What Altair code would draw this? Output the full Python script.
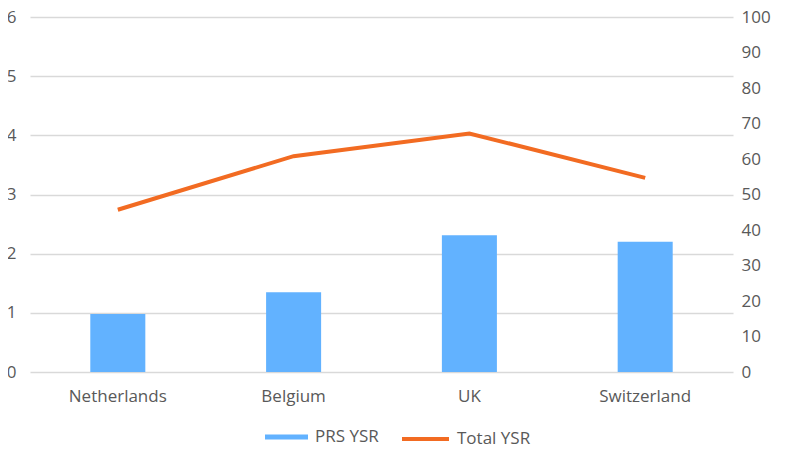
import altair as alt
import pandas as pd

countries = ["Netherlands", "Belgium", "UK", "Switzerland"]
prs_ysr = [0.98, 1.35, 2.31, 2.20]
total_ysr = [45.7, 60.8, 67.2, 54.7]

df = pd.DataFrame({
    "country": countries,
    "prs": prs_ysr,
    "total": total_ysr,
    "s_bar": ["PRS YSR"] * 4,
    "s_line": ["Total YSR"] * 4,
})

FONT = "Open Sans"
GRAY = "#595959"
BLUE = "#62B2FF"
ORANGE = "#F26B22"

TOP = 9
H = 355
LEG_Y = 437 - 8 - TOP  # legend centre, relative to plot origin

x_enc = alt.X("country:N", sort=countries, title=None,
              scale=alt.Scale(paddingInner=0.687, paddingOuter=0.343),
              axis=alt.Axis(labelAngle=0, labelFontSize=17, labelColor=GRAY, labelFont=FONT,
                            domain=False, ticks=False, labelPadding=16, grid=False))

bars = alt.Chart(df).mark_bar().encode(
    x=x_enc,
    y=alt.Y("prs:Q", title=None, scale=alt.Scale(domain=[0, 6], nice=False),
            axis=alt.Axis(values=[0, 1, 2, 3, 4, 5, 6], orient="left", domain=False, ticks=False,
                          labelFontSize=17, labelColor=GRAY, labelFont=FONT, labelPadding=14,
                          grid=True, gridColor="#D9D9D9", gridWidth=1.5)),
    fill=alt.Fill("s_bar:N", title=None,
                  scale=alt.Scale(domain=["PRS YSR"], range=[BLUE]),
                  legend=alt.Legend(orient="none", legendX=235, legendY=LEG_Y - 21.5, padding=0,
                                    symbolType="M-1,-0.116H1V0.116H-1Z",
                                    symbolSize=1849, symbolStrokeWidth=0, labelFontSize=17, labelFont=FONT,
                                    labelColor=GRAY, symbolOpacity=1, labelOffset=7)),
)

line = alt.Chart(df).mark_line(strokeWidth=4).encode(
    x=x_enc,
    y=alt.Y("total:Q", title=None, scale=alt.Scale(domain=[0, 100], nice=False),
            axis=alt.Axis(values=list(range(0, 101, 10)), orient="right", domain=False, ticks=False,
                          labelFontSize=17, labelColor=GRAY, labelFont=FONT, labelPadding=8, grid=False)),
    stroke=alt.Stroke("s_line:N", title=None,
                      scale=alt.Scale(domain=["Total YSR"], range=[ORANGE]),
                      legend=alt.Legend(orient="none", legendX=370, legendY=LEG_Y - 23.5, padding=0,
                                        symbolType="stroke",
                                        symbolSize=2209, symbolStrokeWidth=4, labelFontSize=17, labelFont=FONT,
                                        labelColor=GRAY, labelOffset=6)),
)

chart = alt.layer(bars, line).resolve_scale(y="independent", fill="independent", stroke="independent").properties(
    width=703, height=H,
    background="white",
    autosize=alt.AutoSizeParams(type="none"),
    padding={"left": 22, "top": TOP, "right": 45, "bottom": 80},
).configure_view(stroke=None)

chart.save("out.html", embed_options={"renderer": "svg", "actions": False})
